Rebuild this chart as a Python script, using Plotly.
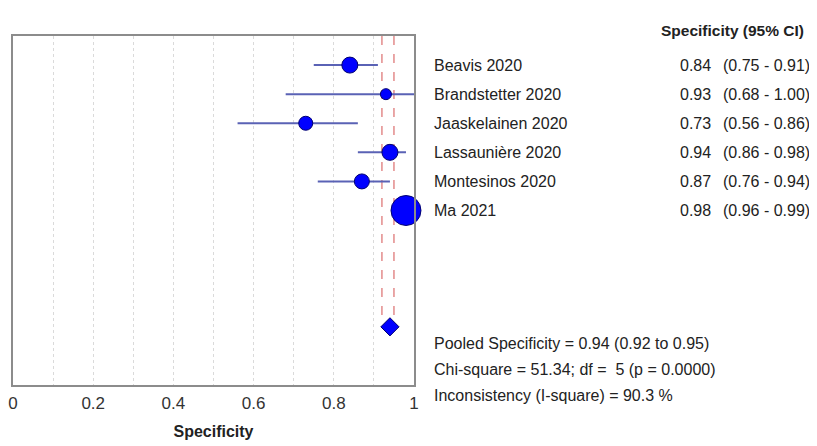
import plotly.graph_objects as go

# ---- data ----
studies = ["Beavis 2020", "Brandstetter 2020", "Jaaskelainen 2020",
           "Lassaunière 2020", "Montesinos 2020", "Ma 2021"]
spec = [0.84, 0.93, 0.73, 0.94, 0.87, 0.98]
ci_lo = [0.75, 0.68, 0.56, 0.86, 0.76, 0.96]
ci_hi = [0.91, 1.00, 0.86, 0.98, 0.94, 0.99]
weights = [16, 11, 14, 16, 15, 30]  # marker size ~ study weight
pooled = 0.94
pooled_lo = 0.92
pooled_hi = 0.95
stats_lines = ["Pooled Specificity = 0.94 (0.92 to 0.95)",
               "Chi-square = 51.34; df =  5 (p = 0.0000)",
               "Inconsistency (I-square) = 90.3 %"]
xticks = [0, 0.2, 0.4, 0.6, 0.8, 1]

rows = list(range(1, len(studies) + 1))
pooled_row = 10

FONT = "Liberation Sans, Arial, sans-serif"
TXT = "#222222"
FS = 16

# page offset of the figure (body margin) and the target plot box (absolute px)
OFF = 8
BOX_L, BOX_R, BOX_T, BOX_B = 13, 414, 36, 385

def pxx(px):
    return (px - BOX_L) / (BOX_R - BOX_L)

def pxy(py):
    return (BOX_B - py) / (BOX_B - BOX_T)

fig = go.Figure()

# pooled CI reference lines
for v in (pooled_lo, pooled_hi):
    fig.add_trace(go.Scatter(x=[v, v], y=[0, pooled_row - 0.35], mode="lines",
                             line=dict(color="#e38b8b", width=1.5, dash="dash"),
                             hoverinfo="skip", showlegend=False))

# CI lines
lx, ly = [], []
for r, a, b in zip(rows, ci_lo, ci_hi):
    lx += [a, b, None]
    ly += [r, r, None]
fig.add_trace(go.Scatter(x=lx, y=ly, mode="lines",
                         line=dict(color="#5a62b5", width=2),
                         hoverinfo="skip", showlegend=False))

# point estimates
fig.add_trace(go.Scatter(x=spec, y=rows, mode="markers", cliponaxis=False,
                         marker=dict(symbol="circle", size=weights, color="#0000ff",
                                     opacity=1, line=dict(color="#000070", width=1)),
                         showlegend=False))

# pooled diamond
fig.add_trace(go.Scatter(x=[pooled], y=[pooled_row], mode="markers", cliponaxis=False,
                         marker=dict(symbol="diamond", size=14, color="#0000ff",
                                     opacity=1, line=dict(color="#000070", width=1)),
                         showlegend=False))

# right-hand text table
fig.add_annotation(x=pxx(806), y=pxy(30), xref="paper", yref="paper",
                   text="<b>Specificity (95% CI)</b>", showarrow=False,
                   xanchor="right", yanchor="middle",
                   font=dict(family=FONT, size=15.5, color=TXT))
for r, name, s, a, b in zip(rows, studies, spec, ci_lo, ci_hi):
    fig.add_annotation(x=pxx(432), y=r, xref="paper", yref="y", text=name,
                       showarrow=False, xanchor="left", yanchor="middle",
                       font=dict(family=FONT, size=FS, color=TXT))
    fig.add_annotation(x=pxx(713), y=r, xref="paper", yref="y", text=f"{s:.2f}",
                       showarrow=False, xanchor="right", yanchor="middle",
                       font=dict(family=FONT, size=FS, color=TXT))
    fig.add_annotation(x=pxx(721), y=r, xref="paper", yref="y",
                       text=f"({a:.2f} - {b:.2f})",
                       showarrow=False, xanchor="left", yanchor="middle",
                       font=dict(family=FONT, size=FS, color=TXT))

for py, line in zip([343, 369, 395], stats_lines):
    fig.add_annotation(x=pxx(432), y=pxy(py), xref="paper", yref="paper", text=line,
                       showarrow=False, xanchor="left", yanchor="middle",
                       font=dict(family=FONT, size=FS, color=TXT))

fig.update_layout(
    width=817, height=446,
    margin=dict(l=BOX_L - OFF, r=817 + OFF - BOX_R, t=BOX_T - OFF, b=446 + OFF - BOX_B),
    paper_bgcolor="white", plot_bgcolor="white",
    font=dict(family=FONT, size=FS, color=TXT),
    showlegend=False,
)
fig.update_xaxes(range=[0, 1], tickvals=xticks, ticktext=[f"{t:g}" for t in xticks],
                 showline=True, mirror=True, linecolor="#8c8c8c", linewidth=1.5,
                 showgrid=True, gridcolor="#dadada", griddash="dot", gridwidth=1,
                 minor=dict(dtick=0.1, showgrid=True, gridcolor="#dadada", griddash="dot"),
                 ticks="", zeroline=False, automargin=False, ticklabelstandoff=2,
                 ticklabeloverflow="allow",
                 tickfont=dict(family=FONT, size=17, color="#333333"),
                 title=dict(text="<b>Specificity</b>", standoff=14,
                            font=dict(family=FONT, size=FS, color=TXT)))
fig.update_yaxes(range=[12, 0], showline=True, mirror=True, linecolor="#8c8c8c",
                 linewidth=1.5, showgrid=False, zeroline=False, showticklabels=False,
                 ticks="", automargin=False)

fig.write_html("out.html")
